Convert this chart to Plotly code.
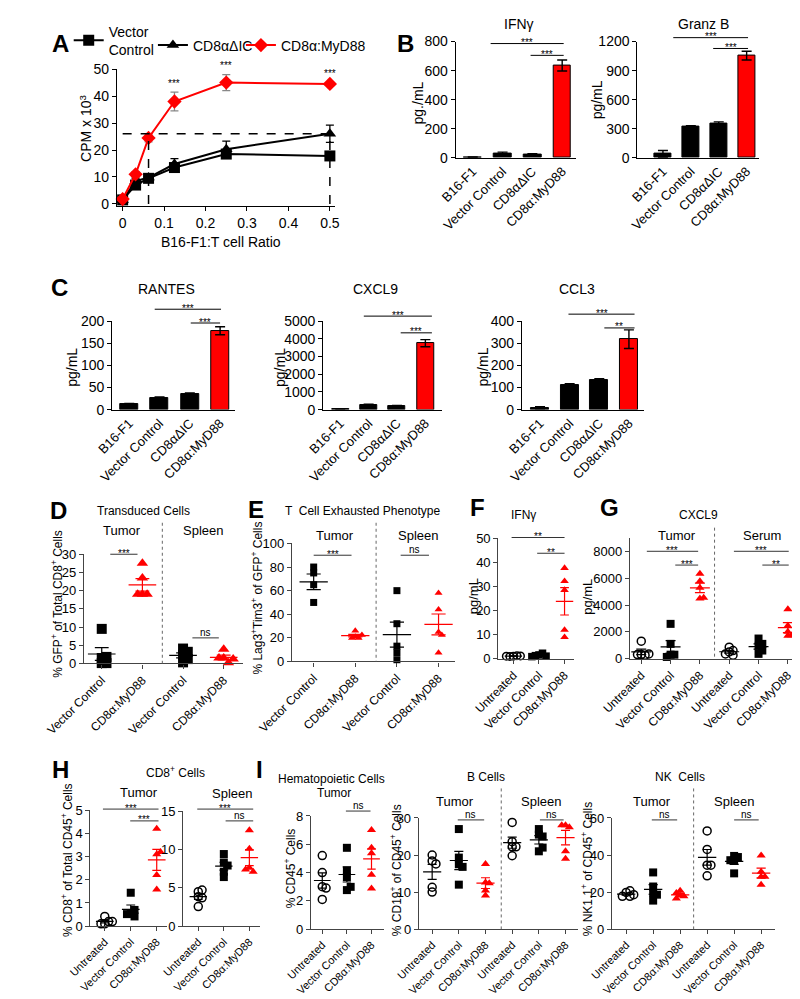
import numpy as np
import plotly.graph_objects as go

W, H = 800, 999
RED = "#ff0000"
FONT = "Liberation Sans, Arial, sans-serif"

# ---------- A: killing assay (CPM x 10^3) ----------
ratio = [0, 0.03125, 0.0625, 0.125, 0.25, 0.5]
vc_cpm = [1.5, 7.0, 9.5, 13.5, 18.5, 17.8]
vc_err = [0.5, 1.0, 1.5, 1.5, 1.5, 1.0]
dic_cpm = [1.5, 8.5, 9.8, 14.8, 20.3, 26.0]
dic_err = [0.5, 1.0, 1.0, 2.0, 3.0, 3.2]
myd_cpm = [1.8, 11.0, 24.5, 38.0, 45.0, 44.5]
myd_err = [0.6, 1.0, 1.5, 3.5, 3.0, 0.6]
a_stars = ["", "", "", "***", "***", "***"]

# ---------- B, C: cytokines in vitro (pg/mL) ----------
bar_groups = ["B16-F1", "Vector Control", "CD8αΔIC", "CD8α:MyD88"]
ifng = [3, 30, 22, 635]
ifng_err = [2, 8, 5, 38]
granzb = [40, 325, 355, 1055]
granzb_err = [35, 5, 15, 45]
rantes = [12, 27, 35, 178]
rantes_err = [2, 1.5, 2.5, 9]
cxcl9 = [8, 270, 220, 3750]
cxcl9_err = [4, 30, 20, 200]
ccl3 = [8, 110, 132, 318]
ccl3_err = [5, 7, 8, 42]

# ---------- D-I: per-mouse values ----------
two_groups = ["Vector Control", "CD8α:MyD88"]
three_groups = ["Untreated", "Vector Control", "CD8α:MyD88"]

d_tumor_vc = [9.5, 1.5, 0.1, 0.1, 1.8]
d_tumor_myd = [27.5, 23.5, 19, 19, 19]
d_spleen_vc = [2.4, 4.1, 3.2, 0.3, 1.2]
d_spleen_myd = [3.9, 1.5, 0.2, 1.5, 1.2]

e_tumor_vc = [80, 75, 65, 50]
e_tumor_myd = [21, 26, 20, 20, 22.5]
e_spleen_vc = [60, 32, 13, 7.5, 1.5]
e_spleen_myd = [58, 44, 25, 22.5, 7.5]

f_untreated = [1.0, 1.2, 0.9, 1.1, 1.0]
f_vc = [1.5, 2.2, 1.2, 1.0, 0.8]
f_myd = [37.7, 32.2, 28.5, 8.9, 11.9]

g_tumor_un = [1300, 300, 250, 300, 350]
g_tumor_vc = [2600, 1100, 290, 290, 120]
g_tumor_myd = [6350, 5800, 5300, 4500, 4550]
g_serum_un = [850, 600, 500, 250, 350]
g_serum_vc = [1500, 950, 1100, 350, 600]
g_serum_myd = [3700, 2450, 2000, 1750, 1700]

h_tumor_un = [0.42, 0.1, 0.2, 0.1, 0.2]
h_tumor_vc = [1.44, 0.56, 0.42, 0.7, 0.52]
h_tumor_myd = [4.2, 3.1, 3.2, 2.2, 1.58]
h_spleen_un = [4.5, 4.7, 3.85, 3.7, 2.56]
h_spleen_vc = [8.3, 9.4, 6.4, 7.9, 7.1]
h_spleen_myd = [12.5, 10.1, 7.6, 7.1, 7.4]

i_cd45_un = [5.2, 4.0, 3.0, 2.9, 2.1]
i_cd45_vc = [5.75, 4.14, 3.68, 2.76, 2.99]
i_cd45_myd = [7.0, 5.75, 5.36, 3.84, 2.87]

i_b_tumor_un = [20, 18.4, 17.6, 10, 11.3]
i_b_tumor_vc = [27, 19.3, 17.5, 16.8, 12]
i_b_tumor_myd = [17.6, 12.6, 12.4, 10.4, 9.1]
i_b_spleen_un = [28.8, 23.6, 22.2, 22.2, 19.8]
i_b_spleen_vc = [27, 25.5, 25, 21, 22]
i_b_spleen_myd = [28, 27.5, 19, 21, 28]

i_nk_tumor_un = [19.8, 20.7, 17.7, 17.7, 18.6]
i_nk_tumor_vc = [30.6, 23, 19.5, 18.6, 15.4]
i_nk_tumor_myd = [20.7, 18.2, 17.7, 16.5, 19.5]
i_nk_spleen_un = [53, 43, 34.5, 34.5, 28.8]
i_nk_spleen_vc = [39.5, 38.9, 37.2, 37.2, 30.1]
i_nk_spleen_myd = [39.8, 31, 28.3, 28.3, 23.9]


fig = go.Figure()
ann = []
shapes = []
n_ax = [0]


def new_axes(box, xr, yr, color="black", xt=None, xl=None, xangle=-45, yt=None,
             xticks="outside", tfont=13, xfont=12):
    # box = left, right, top, bottom in pixels
    n_ax[0] += 1
    s = "" if n_ax[0] == 1 else str(n_ax[0])
    l, r, t, b = box
    base = dict(showline=True, linecolor=color, linewidth=1.2, showgrid=False, zeroline=False,
                ticks="outside", ticklen=4, tickwidth=1.2, tickcolor=color, fixedrange=True)
    fig.update_layout({
        "xaxis" + s: dict(base, domain=[l / W, r / W], range=list(xr), anchor="y" + s,
                          tickmode="array", tickvals=xt, ticktext=xl, tickangle=xangle,
                          ticks=xticks, tickfont=dict(size=xfont)),
        "yaxis" + s: dict(base, domain=[1 - b / H, 1 - t / H], range=list(yr), anchor="x" + s,
                          tickmode="array", tickvals=yt, tickfont=dict(size=tfont)),
    })
    return "x" + s, "y" + s, (r - l) / (xr[1] - xr[0]), (b - t) / (yr[1] - yr[0])


def label(x, y, s, size=12, bold=False, angle=0, anchor="center"):
    ann.append(dict(x=x / W, y=1 - y / H, xref="paper", yref="paper",
                    text="<b>%s</b>" % s if bold else s, showarrow=False, textangle=angle,
                    xanchor=anchor, yanchor="middle", font=dict(size=size, color="black")))


def sig(xa, x0, x1, ypx, s, color="black"):
    shapes.append(dict(type="line", xref=xa, yref="paper", x0=x0, x1=x1,
                       y0=1 - ypx / H, y1=1 - ypx / H, line=dict(color=color, width=1)))
    dy = 1 if s.startswith("*") else 5.5
    ann.append(dict(xref=xa, yref="paper", x=(x0 + x1) / 2, y=1 - (ypx - dy) / H, text=s,
                    showarrow=False, yanchor="middle", font=dict(size=10, color="black")))


def bar_panel(box, xr, yr, yt, vals, errs, sigs):
    xa, ya, _, _ = new_axes(box, xr, yr, xt=[0, 1, 2, 3], xl=bar_groups, yt=yt,
                            xticks="", tfont=14, xfont=13)
    fig.add_trace(go.Bar(x=[0, 1, 2, 3], y=vals, width=0.6, xaxis=xa, yaxis=ya, showlegend=False,
                         marker=dict(color=["black", "black", "black", RED],
                                     line=dict(color="black", width=1)),
                         error_y=dict(type="data", array=errs, color="black", thickness=1.4, width=5)))
    for x0, x1, ypx, s in sigs:
        sig(xa, x0, x1, ypx, s)


STY = {"sq": ("square", "black"), "tri": ("triangle-up", RED), "circ": ("circle-open", "black")}


def swarm(vals, ppu, xpx, size):
    placed, offs = [], []
    step = 0.5 * size
    for v in vals:
        y = v * ppu
        for k in [0, 1, -1, 2, -2, 3, -3]:
            x = k * step
            if all((x - a) ** 2 + (y - b) ** 2 >= step ** 2 * 0.99 for a, b in placed):
                break
        placed.append((x, y))
        offs.append(x / xpx)
    return offs


def dot_panel(box, xr, yr, yt, groups, labels, size, sigs, divider=None, div_top=None, xfont=12):
    xa, ya, xpx, ypx = new_axes(box, xr, yr, color="#444", xt=list(range(len(groups))),
                                xl=labels, yt=yt, xfont=xfont)
    for i, (vals, st) in enumerate(groups):
        sym, col = STY[st]
        offs = swarm(vals, ypx, xpx, size)
        fig.add_trace(go.Scatter(x=[i + o for o in offs], y=vals, mode="markers", xaxis=xa, yaxis=ya,
                                 cliponaxis=False, showlegend=False,
                                 marker=dict(symbol=sym, color=col, size=size,
                                             line=dict(width=1.5 if st == "circ" else 0, color=col))))
        m = np.mean(vals)
        se = np.std(vals, ddof=1) / np.sqrt(len(vals))
        hw, cw = 0.34, 0.17
        for x0, x1, y0, y1 in [(i - hw, i + hw, m, m), (i, i, m - se, m + se),
                               (i - cw, i + cw, m - se, m - se), (i - cw, i + cw, m + se, m + se)]:
            shapes.append(dict(type="line", xref=xa, yref=ya, x0=x0, x1=x1, y0=max(y0, 0), y1=y1,
                               line=dict(color=col, width=1.2)))
    if divider is not None:
        shapes.append(dict(type="line", xref=xa, yref="paper", x0=divider, x1=divider,
                           y0=1 - div_top / H, y1=1 - box[3] / H,
                           line=dict(color="#666", width=1, dash="dot")))
    for x0, x1, ypx, s in sigs:
        sig(xa, x0, x1, ypx, s, color="#333")


# ---------- A ----------
xa, ya, _, _ = new_axes((75, 305, 54, 193), (-0.0137, 0.5114), (-0.73, 50),
                        xt=[0, 0.1, 0.2, 0.3, 0.4, 0.5], xangle=0, yt=[0, 10, 20, 30, 40, 50],
                        tfont=14, xfont=14)
for name, ys, es, sym, col, ecol, leg in [
        ("Vector<br>Control", vc_cpm, vc_err, "square", "black", "black", "legend"),
        ("CD8αΔIC", dic_cpm, dic_err, "triangle-up", "black", "black", "legend2"),
        ("CD8α:MyD88", myd_cpm, myd_err, "diamond", RED, "#888", "legend3")]:
    fig.add_trace(go.Scatter(x=ratio, y=ys, name=name, mode="lines+markers", xaxis=xa, yaxis=ya,
                             legend=leg, cliponaxis=False, line=dict(color=col, width=2),
                             marker=dict(symbol=sym, size=11, color=col),
                             error_y=dict(type="data", array=es, color=ecol, thickness=1.3, width=4)))
level = dic_cpm[-1]
for x0, x1, y0, y1 in [(ratio[0], ratio[-1], level, level), (ratio[2], ratio[2], 0, level),
                       (ratio[-1], ratio[-1], 0, level)]:
    shapes.append(dict(type="line", xref=xa, yref=ya, x0=x0, x1=x1, y0=y0, y1=y1,
                       line=dict(color="black", width=1.5, dash="dash")))
for x, y, e, s in zip(ratio, myd_cpm, myd_err, a_stars):
    if s:
        ann.append(dict(xref=xa, yref=ya, x=x, y=y + e + 0.5, text=s, showarrow=False,
                        yanchor="bottom", font=dict(size=10, color="black")))
label(15, 28, "A", 24, bold=True)
label(42, 114, "CPM x 10<sup>3</sup>", 14, angle=-90)
label(185, 230, "B16-F1:T cell Ratio", 14)

# ---------- B ----------
label(380, 28, "B", 24, bold=True)
bar_panel((433, 560, 26, 144), (-0.571, 3.46), (0, 800), [0, 200, 400, 600, 800], ifng, ifng_err,
          [(0.6, 3.05, 28, "***"), (1.94, 3.05, 40, "***")])
label(500, 8, "IFNγ", 14)
label(393, 88, "pg./mL", 14, angle=-90)
bar_panel((625, 754, 26, 144), (-0.915, 3.46), (0, 1200), [0, 300, 600, 900, 1200], granzb, granzb_err,
          [(0.37, 3.05, 22, "***"), (1.8, 3.05, 33, "***")])
label(695, 8, "Granz B", 14)
label(582, 85, "pg/mL", 14, angle=-90)

# ---------- C ----------
label(14, 276, "C", 24, bold=True)
bar_panel((70, 200, 310, 400), (-0.5625, 3.5), (0, 200), [0, 50, 100, 150, 200], rantes, rantes_err,
          [(0.84, 3.03, 298, "***"), (2.03, 3.0, 312, "***")])
label(127, 277, "RANTES", 14)
label(28, 357, "pg/mL", 14, angle=-90)
bar_panel((293, 418, 310, 400), (-0.6, 3.57), (0, 5000), [0, 1000, 2000, 3000, 4000, 5000], cxcl9,
          cxcl9_err, [(0.83, 3.23, 305, "***"), (2.13, 3.23, 322, "***")])
label(348, 277, "CXCL9", 14)
label(248, 357, "pg/mL", 14, angle=-90)
bar_panel((503, 632, 310, 400), (-0.61, 3.51), (0, 400), [0, 100, 200, 300, 400], ccl3, ccl3_err,
          [(0.96, 3.19, 303, "***"), (2.17, 3.19, 317, "**")])
label(561, 277, "CCL3", 14)
label(462, 357, "pg/mL", 14, angle=-90)

# ---------- D ----------
dot_panel((40, 208, 547, 658), (-0.44, 3.47), (0, 30), [0, 5, 10, 15, 20, 25, 30],
          [(d_tumor_vc, "sq"), (d_tumor_myd, "tri"), (d_spleen_vc, "sq"), (d_spleen_myd, "tri")],
          two_groups * 2, 10, [(0.21, 0.88, 547, "***"), (2.23, 2.88, 632, "ns")],
          divider=1.49, div_top=515)
label(13, 503, "D", 24, bold=True)
label(103, 503, "Transduced Cells", 12)
label(80, 523, "Tumor", 13)
label(166, 523, "Spleen", 13)
label(12, 597, "% GFP<sup>+</sup> of Total CD8<sup>+</sup> Cells", 12, angle=-90)

# ---------- E ----------
dot_panel((260, 432, 536, 656), (-0.52, 3.39), (0, 100), [0, 20, 40, 60, 80, 100],
          [(e_tumor_vc, "sq"), (e_tumor_myd, "tri"), (e_spleen_vc, "sq"), (e_spleen_myd, "tri")],
          two_groups * 2, 7, [(0.0, 0.91, 548, "***"), (2.09, 2.77, 548, "ns")],
          divider=1.5, div_top=515)
label(222, 502, "E", 24, bold=True)
label(250, 503, "T  Cell Exhausted Phenotype", 12, anchor="left")
label(305, 528, "Tumor", 13)
label(393, 528, "Spleen", 13)
label(222, 592, "% Lag3<sup>+</sup>Tim3<sup>+</sup> of GFP<sup>+</sup> Cells", 12, angle=-90)

# ---------- F ----------
dot_panel((478, 558, 531, 653), (-0.59, 2.37), (0, 50), [0, 10, 20, 30, 40, 50],
          [(f_untreated, "circ"), (f_vc, "sq"), (f_myd, "tri")], three_groups, 7.5,
          [(-0.07, 2.0, 530, "**"), (0.93, 2.0, 546, "**")])
label(456, 500, "F", 24, bold=True)
label(505, 507, "IFNγ", 12)
label(452, 590, "pg/mL", 13, angle=-90)

# ---------- G ----------
dot_panel((617, 797, 531, 653), (-0.39, 5.42), (0, 9000), [0, 2000, 4000, 6000, 8000],
          [(g_tumor_un, "circ"), (g_tumor_vc, "sq"), (g_tumor_myd, "tri"),
           (g_serum_un, "circ"), (g_serum_vc, "sq"), (g_serum_myd, "tri")], three_groups * 2, 8,
          [(0.19, 1.94, 544, "***"), (1.16, 1.94, 558, "***"), (3.16, 5.03, 544, "***"),
           (4.13, 5.03, 558, "**")], divider=2.5, div_top=520)
label(596, 500, "G", 24, bold=True)
label(690, 507, "CXCL9", 12)
label(667, 528, "Tumor", 13)
label(757, 528, "Serum", 13)
label(572, 590, "pg/mL", 13, angle=-90)

# ---------- H ----------
dot_panel((47, 128, 807, 925), (-0.55, 2.4), (0, 5), [0, 1, 2, 3, 4, 5],
          [(h_tumor_un, "circ"), (h_tumor_vc, "sq"), (h_tumor_myd, "tri")], three_groups, 8,
          [(-0.07, 2.07, 806, "***"), (0.98, 2.07, 818, "***")], xfont=11)
dot_panel((145, 226, 808, 925), (-0.59, 2.41), (0, 15), [0, 5, 10, 15],
          [(h_spleen_un, "circ"), (h_spleen_vc, "sq"), (h_spleen_myd, "tri")], three_groups, 8,
          [(-0.04, 2.15, 806, "***"), (1.07, 2.15, 818, "ns")], xfont=11)
label(15, 766, "H", 24, bold=True)
label(137, 768, "CD8<sup>+</sup> Cells", 12)
label(98, 789, "Tumor", 13)
label(197, 790, "Spleen", 13)
label(22, 858, "% CD8<sup>+</sup> of Total CD45<sup>+</sup> Cells", 12, angle=-90)

# ---------- I ----------
dot_panel((280, 357, 813, 928), (-0.46, 2.5), (0, 8), [0, 2, 4, 6, 8],
          [(i_cd45_un, "circ"), (i_cd45_vc, "sq"), (i_cd45_myd, "tri")], three_groups, 8,
          [(0.96, 1.96, 808, "ns")], xfont=11)
dot_panel((394, 562, 815, 928), (-0.5, 5.46), (0, 30), [0, 10, 20, 30],
          [(i_b_tumor_un, "circ"), (i_b_tumor_vc, "sq"), (i_b_tumor_myd, "tri"),
           (i_b_spleen_un, "circ"), (i_b_spleen_vc, "sq"), (i_b_spleen_myd, "tri")],
          three_groups * 2, 8, [(0.96, 1.95, 817, "ns"), (4.04, 4.93, 817, "ns")],
          divider=2.59, div_top=785, xfont=11)
dot_panel((598, 770, 815, 928), (-0.53, 5.5), (0, 60), [0, 20, 40, 60],
          [(i_nk_tumor_un, "circ"), (i_nk_tumor_vc, "sq"), (i_nk_tumor_myd, "tri"),
           (i_nk_spleen_un, "circ"), (i_nk_spleen_vc, "sq"), (i_nk_spleen_myd, "tri")],
          three_groups * 2, 8, [(0.95, 1.89, 817, "ns"), (4.0, 4.91, 817, "ns")],
          divider=2.5, div_top=785, xfont=11)
label(226, 766, "I", 24, bold=True)
label(302, 775, "Hematopoietic Cells", 12)
label(304, 790, "Tumor", 12)
label(258, 866, "% CD45<sup>+</sup> Cells", 12, angle=-90)
label(465, 773, "B Cells", 12)
label(432, 798, "Tumor", 13)
label(523, 798, "Spleen", 13)
label(370, 868, "% CD19<sup>+</sup> of CD45<sup>+</sup> Cells", 12, angle=-90)
label(670, 773, "NK  Cells", 12)
label(640, 798, "Tumor", 13)
label(727, 798, "Spleen", 13)
label(572, 867, "% NK1.1<sup>+</sup> of CD45<sup>+</sup> Cells", 12, angle=-90)

leg = dict(xanchor="left", yanchor="middle", font=dict(size=14, color="black"),
           bgcolor="rgba(0,0,0,0)", borderwidth=0, itemclick=False, itemdoubleclick=False)
fig.update_layout(
    width=W, height=H, margin=dict(l=0, r=0, t=0, b=0),
    paper_bgcolor="white", plot_bgcolor="white",
    font=dict(family=FONT, color="black"),
    showlegend=True,
    legend=dict(leg, x=24 / W, y=1 - 25 / H),
    legend2=dict(leg, x=113 / W, y=1 - 30 / H),
    legend3=dict(leg, x=206 / W, y=1 - 30 / H),
    annotations=ann, shapes=shapes, bargap=0,
)
fig.write_html("out.html")
